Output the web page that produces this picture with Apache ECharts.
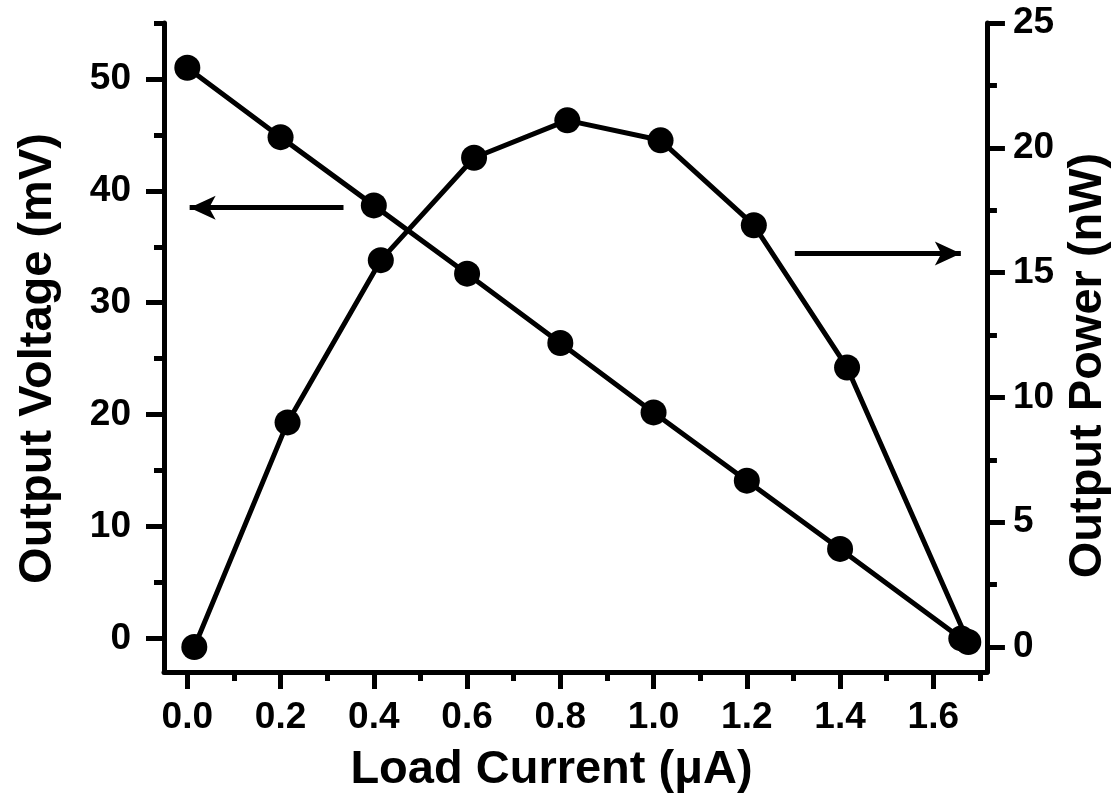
<!DOCTYPE html>
<html>
<head>
<meta charset="utf-8">
<script src="https://cdn.jsdelivr.net/npm/echarts@6/dist/echarts.min.js"></script>
<style>
html,body{margin:0;padding:0;background:#fff;}
#c{width:1120px;height:805px;}
</style>
</head>
<body>
<div id="c"></div>
<script>
// ---- data ----
const voltCurrent = [0.0, 0.2, 0.4, 0.6, 0.8, 1.0, 1.2, 1.4, 1.66];
const voltValues  = [51.0, 44.8, 38.7, 32.6, 26.4, 20.2, 14.1, 8.0, 0.0];
const powerCurrent = [0.015, 0.215, 0.415, 0.615, 0.815, 1.015, 1.215, 1.415, 1.675];
const powerValues  = [0.0, 9.0, 15.5, 19.6, 21.1, 20.3, 16.9, 11.2, 0.2];

const xMajorTicks = [0, 0.2, 0.4, 0.6, 0.8, 1.0, 1.2, 1.4, 1.6];
const xMinorTicks = [0.1, 0.3, 0.5, 0.7, 0.9, 1.1, 1.3, 1.5, 1.7];
const yLeftMajor  = [0, 10, 20, 30, 40, 50];
const yLeftMinor  = [5, 15, 25, 35, 45, 55];
const yRightMajor = [0, 5, 10, 15, 20, 25];
const yRightMinor = [2.5, 7.5, 12.5, 17.5, 22.5];

// annotation arrows: [from, to] in data coordinates
const voltArrow  = [[0.335, 38.5], [0.005, 38.5]];
const powerArrow = [[1.303, 15.77], [1.659, 15.77]];

const FONT = '"Liberation Sans", Arial, sans-serif';
const BLACK = '#000';

function pairs(xs, ys){ return xs.map((x,i)=>[x, ys[i]]); }

const axisLineStyle = {show:true, onZero:false, lineStyle:{color:BLACK, width:5}};
const labelStyle = {color:BLACK, fontSize:37, fontWeight:'bold', fontFamily:FONT};
function titleStyle(padding){
  return {color:BLACK, fontSize:47, fontWeight:'bold', fontFamily:FONT, padding:padding};
}

const X_MIN = -0.05, X_MAX = 1.715;
const YL_MIN = -3, YL_MAX = 55;
const YR_MIN = -1, YR_MAX = 25;

function tickAxis(min, max, position, values, length){
  return {type:'value', min:min, max:max, position:position,
    axisLine:{show:false, onZero:false},
    axisTick:{show:true, inside:false, length:length, customValues:values, lineStyle:{color:BLACK, width:5}},
    axisLabel:{show:false}, splitLine:{show:false}};
}

const option = {
  animation:false,
  backgroundColor:'#fff',
  grid:{left:164, right:128, top:23, bottom:133, containLabel:false},
  xAxis:[
    {type:'value', min:X_MIN, max:X_MAX, position:'bottom',
     axisLine:axisLineStyle,
     axisTick:{show:false},
     axisLabel:Object.assign({margin:27, customValues:xMajorTicks, formatter:v=>v.toFixed(1)}, labelStyle),
     splitLine:{show:false},
     name:'Load Current (\u03BCA)', nameLocation:'middle', nameGap:75, nameTextStyle:titleStyle([0,48,0,0])},
    tickAxis(X_MIN, X_MAX, 'bottom', xMajorTicks, 17),
    tickAxis(X_MIN, X_MAX, 'bottom', xMinorTicks, 9)
  ],
  yAxis:[
    {type:'value', min:YL_MIN, max:YL_MAX, position:'left',
     axisLine:axisLineStyle,
     axisTick:{show:false},
     axisLabel:Object.assign({margin:33, customValues:yLeftMajor}, labelStyle),
     splitLine:{show:false},
     name:'Output Voltage (mV)', nameLocation:'middle', nameGap:102, nameRotate:90, nameTextStyle:titleStyle([0,22,0,0])},
    {type:'value', min:YR_MIN, max:YR_MAX, position:'right',
     axisLine:axisLineStyle,
     axisTick:{show:false},
     axisLabel:Object.assign({margin:26, customValues:yRightMajor}, labelStyle),
     splitLine:{show:false},
     name:'Output Power (nW)', nameLocation:'middle', nameGap:76, nameRotate:90, nameTextStyle:titleStyle([0,36,0,0])},
    tickAxis(YL_MIN, YL_MAX, 'left', yLeftMajor, 18),
    tickAxis(YL_MIN, YL_MAX, 'left', yLeftMinor, 10),
    tickAxis(YR_MIN, YR_MAX, 'right', yRightMajor, 18),
    tickAxis(YR_MIN, YR_MAX, 'right', yRightMinor, 10)
  ],
  series:[
    {type:'line', name:'Voltage', xAxisIndex:0, yAxisIndex:0,
     data:pairs(voltCurrent, voltValues),
     symbol:'circle', symbolSize:26,
     itemStyle:{color:BLACK}, lineStyle:{color:BLACK, width:5},
     markLine:{silent:true, symbol:['none','arrow'], symbolSize:[18,26],
       lineStyle:{color:BLACK, width:5, type:'solid'}, label:{show:false},
       data:[[{coord:voltArrow[0]},{coord:voltArrow[1]}]]}},
    {type:'line', name:'Power', xAxisIndex:0, yAxisIndex:1,
     data:pairs(powerCurrent, powerValues),
     symbol:'circle', symbolSize:26,
     itemStyle:{color:BLACK}, lineStyle:{color:BLACK, width:5},
     markLine:{silent:true, symbol:['none','arrow'], symbolSize:[18,26],
       lineStyle:{color:BLACK, width:5, type:'solid'}, label:{show:false},
       data:[[{coord:powerArrow[0]},{coord:powerArrow[1]}]]}}
  ]
};

const chart = echarts.init(document.getElementById('c'), null, {renderer:'canvas'});
chart.setOption(option);
</script>
</body>
</html>
